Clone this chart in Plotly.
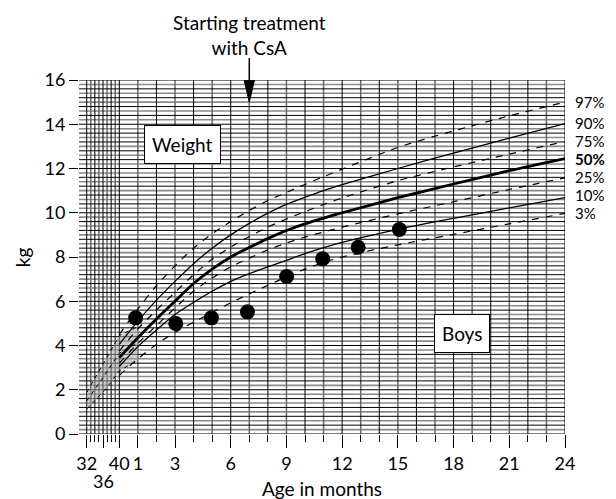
import plotly.graph_objects as go

# ---------------- data ----------------
AGE_MONTHS = [0, 1, 2, 3, 4, 5, 6, 7, 8, 9, 10, 11, 12, 15, 18, 21, 24]
P97 = [4.5, 5.65, 6.7, 7.6, 8.4, 9.05, 9.6, 10.1, 10.55, 10.92, 11.28, 11.63, 11.97, 12.95, 13.7, 14.38, 15.0]
P90 = [4.05, 5.1, 6.05, 6.9, 7.7, 8.4, 9.0, 9.52, 9.98, 10.38, 10.7, 11.0, 11.27, 12.0, 12.7, 13.37, 14.03]
P75 = [3.75, 4.75, 5.6, 6.4, 7.2, 7.9, 8.45, 8.93, 9.35, 9.72, 10.05, 10.37, 10.67, 11.45, 12.07, 12.65, 13.22]
P50 = [3.45, 4.35, 5.2, 6.0, 6.8, 7.45, 8.0, 8.43, 8.84, 9.2, 9.5, 9.76, 10.0, 10.68, 11.3, 11.9, 12.45]
P25 = [3.2, 4.1, 4.9, 5.7, 6.45, 7.05, 7.55, 7.95, 8.32, 8.63, 8.9, 9.13, 9.35, 9.95, 10.5, 11.05, 11.58]
P10 = [3.05, 3.95, 4.7, 5.4, 5.95, 6.45, 6.9, 7.25, 7.55, 7.85, 8.15, 8.42, 8.66, 9.25, 9.75, 10.22, 10.68]
P3 = [2.65, 3.4, 4.05, 4.6, 5.05, 5.5, 5.93, 6.33, 6.72, 7.1, 7.45, 7.75, 8.0, 8.55, 9.02, 9.5, 9.97]

# preterm band (gestational weeks, then first postnatal month)
BAND_WEEKS = [32, 34, 36, 38, 40]
BAND_POST_MONTHS = [0.5, 1.0]
BAND_UPPER = [1.88, 2.5, 3.15, 3.8, 4.45, 4.65, 4.85]
BAND_MID = [1.5, 2.0, 2.55, 3.1, 3.65, 3.9, 4.1]
BAND_LOWER = [1.13, 1.5, 1.9, 2.35, 2.85, 3.1, 3.3]

# patient measurements
DOT_AGE = [0.88, 3.04, 4.96, 6.9, 9.01, 10.95, 12.86, 15.08]
DOT_KG = [5.25, 5.0, 5.25, 5.52, 7.12, 7.92, 8.44, 9.24]

PCT_LABELS = ["97%", "90%", "75%", "50%", "25%", "10%", "3%"]
PCT_LABEL_KG = [15.02, 14.04, 13.24, 12.44, 11.62, 10.8, 9.98]

WEEK_TICKS = [32, 36, 40]
WEEK_TICK_TEXT = ["32", "", "40"]
LOWER_WEEK_LABEL = "36"
MONTH_TICKS = [1, 3, 6, 9, 12, 15, 18, 21, 24]
Y_TICKS = [0, 2, 4, 6, 8, 10, 12, 14, 16]

TREATMENT_AGE = 7

# ---------------- helpers ----------------
WEEK_SCALE = 1.755 / 8  # chart months per gestational week


def wk(w):
    return (w - 40) * WEEK_SCALE


X_MIN, X_MAX = -2.17, 24
FONT = "Lato"

band_x = [wk(w) for w in BAND_WEEKS] + BAND_POST_MONTHS

fig = go.Figure()

# grid lines
hbx, hby, hgx, hgy = [], [], [], []
for k in range(0, 81):
    y = k * 0.2
    if k % 2 == 0:
        hbx += [X_MIN, X_MAX, None]
        hby += [y, y, None]
    else:
        hgx += [X_MIN, X_MAX, None]
        hgy += [y, y, None]
vbx, vby, vgx, vgy = [], [], [], []
vert_pos = [wk(w) for w in range(32, 41)] + list(range(1, 25))
for i, x in enumerate(vert_pos):
    if i % 2 == 0:
        vbx += [x, x, None]
        vby += [0, 16, None]
    else:
        vgx += [x, x, None]
        vgy += [0, 16, None]

for xs, ys, col, w in [(hgx, hgy, "#8a8a8a", 1.6), (vgx, vgy, "#6a6a6a", 1.5),
                       (hbx, hby, "#000000", 1.0), (vbx, vby, "#000000", 1.0)]:
    fig.add_trace(go.Scatter(x=xs, y=ys, mode="lines", line=dict(color=col, width=w),
                             hoverinfo="skip", showlegend=False))

# preterm band
fig.add_trace(go.Scatter(x=band_x, y=BAND_LOWER, mode="lines", line=dict(color="black", width=1, dash="4px,4px"),
                         showlegend=False, hoverinfo="skip"))
fig.add_trace(go.Scatter(x=band_x, y=BAND_UPPER, mode="lines", line=dict(color="black", width=1, dash="4px,4px"),
                         fill="tonexty", fillcolor="rgba(160,160,160,0.5)", showlegend=False, hoverinfo="skip"))
fig.add_trace(go.Scatter(x=band_x, y=BAND_MID, mode="lines", line=dict(color="black", width=1, dash="4px,4px"),
                         showlegend=False, hoverinfo="skip"))

# percentile curves
styles = [
    (P97, 1.2, "7px,7px"),
    (P90, 1.3, "solid"),
    (P75, 1.2, "7px,7px"),
    (P50, 2.8, "solid"),
    (P25, 1.2, "7px,7px"),
    (P10, 1.3, "solid"),
    (P3, 1.2, "7px,7px"),
]
for vals, w, d in styles:
    fig.add_trace(go.Scatter(x=AGE_MONTHS, y=vals, mode="lines",
                             line=dict(color="black", width=w, dash=d, shape="spline", smoothing=0.8),
                             showlegend=False, hoverinfo="skip"))

# patient points
fig.add_trace(go.Scatter(x=DOT_AGE, y=DOT_KG, mode="markers",
                         marker=dict(color="black", size=15), showlegend=False))

annotations = []
for lab, yv in zip(PCT_LABELS, PCT_LABEL_KG):
    txt = "<b>%s</b>" % lab if lab == "50%" else lab
    annotations.append(dict(x=1.018, y=yv, xref="paper", yref="y", text=txt, showarrow=False,
                            xanchor="left", yanchor="middle", borderpad=0,
                            font=dict(size=15, color="black", family=FONT)))

annotations += [
    dict(x=wk(36), y=-0.132, xref="x", yref="paper", text=LOWER_WEEK_LABEL, showarrow=False,
         yanchor="middle", font=dict(size=18, color="black", family=FONT)),
    dict(x=3.4, y=13.07, xref="x", yref="y", text="Weight", showarrow=False,
         font=dict(size=19, color="black", family=FONT), bgcolor="white",
         bordercolor="black", borderwidth=1, borderpad=7),
    dict(x=18.44, y=4.56, xref="x", yref="y", text="Boys", showarrow=False,
         font=dict(size=19, color="black", family=FONT), bgcolor="white",
         bordercolor="black", borderwidth=1, borderpad=7),
    dict(x=TREATMENT_AGE, y=1.126, xref="x", yref="paper", text="Starting treatment<br>with CsA",
         showarrow=False, yanchor="middle", font=dict(size=19, color="black", family=FONT)),
    dict(x=0.5, y=-0.155, xref="paper", yref="paper", text="Age in months", showarrow=False,
         yanchor="middle", font=dict(size=19, color="black", family=FONT)),
    dict(x=-0.117, y=0.5, xref="paper", yref="paper", text="kg", showarrow=False, textangle=-90,
         xanchor="center", yanchor="middle", font=dict(size=19, color="black", family=FONT)),
]

shapes = [
    dict(type="line", xref="x", yref="paper", x0=TREATMENT_AGE, x1=TREATMENT_AGE, y0=1.062, y1=0.99,
         line=dict(color="black", width=1.5)),
    dict(type="path", xref="x", yref="y",
         path="M %f,16 L %f,16 L %f,15.0 Z" % (TREATMENT_AGE - 0.28, TREATMENT_AGE + 0.28, TREATMENT_AGE),
         fillcolor="black", line=dict(color="black", width=1)),
]

minor_x = [wk(w) for w in [33, 34, 35, 37, 38, 39]] + [m for m in range(2, 24) if m not in MONTH_TICKS]

# the page body adds an 8px offset, so the figure is 8px smaller and shifted
fig.update_layout(
    width=608, height=491,
    margin=dict(l=71, r=51, t=72, b=65),
    plot_bgcolor="white", paper_bgcolor="white",
    font=dict(family=FONT, color="black"),
    annotations=annotations, shapes=shapes,
    xaxis=dict(range=[X_MIN, X_MAX], showgrid=False, zeroline=False, showline=False,
               automargin=False, tickangle=0,
               tickmode="array", tickvals=[wk(w) for w in WEEK_TICKS] + MONTH_TICKS,
               ticktext=WEEK_TICK_TEXT + [str(m) for m in MONTH_TICKS],
               ticks="outside", ticklen=13, tickwidth=1.2, tickcolor="black",
               tickfont=dict(size=18, family=FONT, color="black"),
               minor=dict(tickmode="array", tickvals=minor_x, ticks="outside", ticklen=7,
                          tickwidth=1.2, tickcolor="black", showgrid=False)),
    yaxis=dict(range=[0, 16], showgrid=False, zeroline=False, showline=False,
               automargin=False,
               tickmode="array", tickvals=Y_TICKS, ticks="outside", ticklen=9,
               tickwidth=1.2, tickcolor="black",
               tickfont=dict(size=18, family=FONT, color="black")),
)

fig.write_html("out.html")
